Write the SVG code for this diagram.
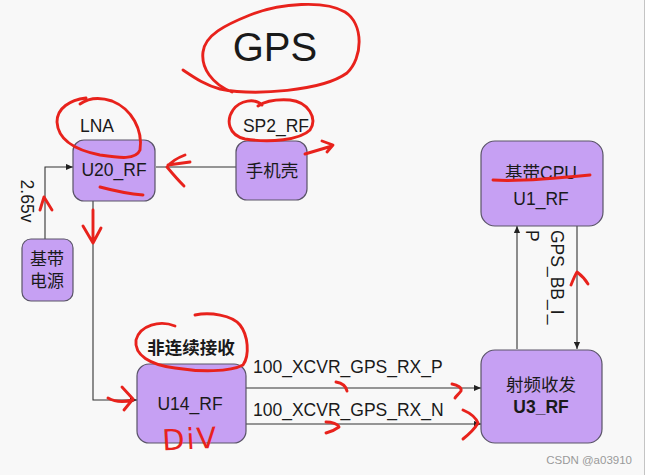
<svg xmlns="http://www.w3.org/2000/svg" width="647" height="475" viewBox="0 0 647 475">
<defs>
<marker id="ah" viewBox="0 0 8 8" refX="8" refY="4" markerWidth="7" markerHeight="7" markerUnits="userSpaceOnUse" orient="auto">
<path d="M0,0.5 L8,4 L0,7.5 Z" fill="#222"/>
</marker>
<style>
.box{fill:#c6a0f3;stroke:#5a5468;stroke-width:1.2}
.t{font-family:"Liberation Sans","Noto Sans CJK SC",sans-serif;font-size:17.5px;fill:#1a1a1a;text-anchor:middle}
.ts{font-family:"Liberation Sans","Noto Sans CJK SC",sans-serif;font-size:17.5px;fill:#1a1a1a}
.c{fill:none;stroke:#333;stroke-width:1.1}
.r{fill:none;stroke:#e8221c;stroke-width:2.9;stroke-linecap:round;stroke-linejoin:round}
</style>
</defs>
<rect x="0" y="0" width="647" height="475" fill="#ffffff"/>
<rect x="0" y="0" width="644" height="475" fill="#f8f8f8"/>
<line x1="644.5" y1="0" x2="644.5" y2="475" stroke="#c4c4c4" stroke-width="1"/>

<text class="t" x="275" y="61" style="font-size:40px">GPS</text>

<g id="connectors">
<path class="c" d="M236,167 L156,167"/>
<path class="c" d="M45,239 L45,167 L73,167" marker-end="url(#ah)"/>
<path class="c" d="M93,201 L93,400 L137,400" marker-end="url(#ah)"/>
<path class="c" d="M246,388 L481,388" marker-end="url(#ah)"/>
<path class="c" d="M246,424 L481,424" marker-end="url(#ah)"/>
<path class="c" d="M517,349 L517,226" marker-end="url(#ah)"/>
<path class="c" d="M577,226 L577,349" marker-end="url(#ah)"/>
<text class="ts" transform="translate(27,201) rotate(90)" text-anchor="middle" dominant-baseline="central">2.65v</text>
<text class="ts" transform="translate(557,230) rotate(90)" dominant-baseline="central"><tspan x="0" y="0">GPS_BB_I_</tspan><tspan x="0" y="25">P</tspan></text>
<text class="ts" x="253" y="373">100_XCVR_GPS_RX_P</text>
<text class="ts" x="253" y="416">100_XCVR_GPS_RX_N</text>
</g>

<g id="u20">
<rect class="box" x="73" y="140" width="82" height="61" rx="11"/>
<text class="t" x="97" y="132">LNA</text>
<text class="t" x="114" y="176">U20_RF</text>
</g>
<g id="shoujike">
<rect class="box" x="236" y="141" width="71" height="59" rx="11"/>
<text class="t" x="276" y="132">SP2_RF</text>
<text class="t" x="272" y="177">手机壳</text>
</g>
<g id="power">
<rect class="box" x="22" y="239" width="51" height="62" rx="9"/>
<text class="t" x="47" y="265" style="font-size:17px">基带</text>
<text class="t" x="47" y="287" style="font-size:17px">电源</text>
</g>
<g id="u14">
<rect class="box" x="137" y="364" width="109" height="79" rx="12"/>
<text class="t" x="191" y="354" style="font-weight:bold">非连续接收</text>
<text class="t" x="190" y="410">U14_RF</text>
</g>
<g id="u3">
<rect class="box" x="481" y="350" width="121" height="93" rx="14"/>
<text class="t" x="541" y="391">射频收发</text>
<text class="t" x="541" y="413" style="font-weight:bold">U3_RF</text>
</g>
<g id="u1">
<rect class="box" x="481" y="141" width="122" height="85" rx="14"/>
<text class="t" x="541" y="179">基带CPU</text>
<text class="t" x="541" y="205">U1_RF</text>
</g>

<g id="annotations">
<path class="r" d="M183,70 C195,78 205,85 220,89 C255,96 322,91 347,73 C363,58 364,24 345,12 C325,0 280,3 250,15 C225,25 205,35 203,52 C201,68 212,84 232,92"/>
<path class="r" d="M80,104 C90,97 100,97 112,101 C132,109 143,130 140,150 C136,160 120,158 100,155 C75,150 58,140 57,122 C57,108 70,100 86,98"/>
<path class="r" d="M262,105 C255,98 240,100 233,110 C226,120 228,135 245,139 C270,143 300,140 310,130 C318,118 308,102 290,100 C275,99 264,102 258,106"/>
<path class="r" d="M305,154 L332,146 M322,141 L333,145 L327,152"/>
<path class="r" d="M185,155 C177,158 170,163 167,167 C172,173 178,180 184,186 M168,165 L190,162"/>
<path class="r" d="M100,187 C115,191 130,194 143,195"/>
<path class="r" d="M93,210 L93,243 M83,226 L93,243 L101,228"/>
<path class="r" d="M40,210 L44,197 L52,210"/>
<path class="r" d="M175,326 C160,320 140,325 136,340 C134,355 150,365 175,368 C200,372 230,372 243,365 C250,355 248,335 240,325 C232,315 210,312 195,315"/>
<path class="r" d="M108,398 C115,402 125,402 133,400 M122,387 L133,399 L124,410"/>
<text x="190" y="449" text-anchor="middle" transform="rotate(-3 190 435)" style="font-family:'DejaVu Sans',sans-serif;font-size:29px;fill:#e8221c;letter-spacing:2px">DiV</text>
<path class="r" d="M336,382 C342,383 346,386 347,391"/>
<path class="r" d="M452,384 C458,385 462,388 461,391 C459,394 456,396 455,398"/>
<path class="r" d="M326,422 C332,422 338,424 339,427 C335,430 330,432 326,433"/>
<path class="r" d="M463,410 C470,413 476,418 478,423 C474,430 468,435 463,439"/>
<path class="r" d="M493,180 C520,182 560,178 590,175"/>
<path class="r" d="M571,285 C573,280 575,275 577,272 C581,275 585,279 588,284"/>
</g>

<text x="632" y="464" text-anchor="end" style="font-family:'Liberation Sans',sans-serif;font-size:11.5px;fill:#9a9a9a">CSDN @a03910</text>
</svg>
